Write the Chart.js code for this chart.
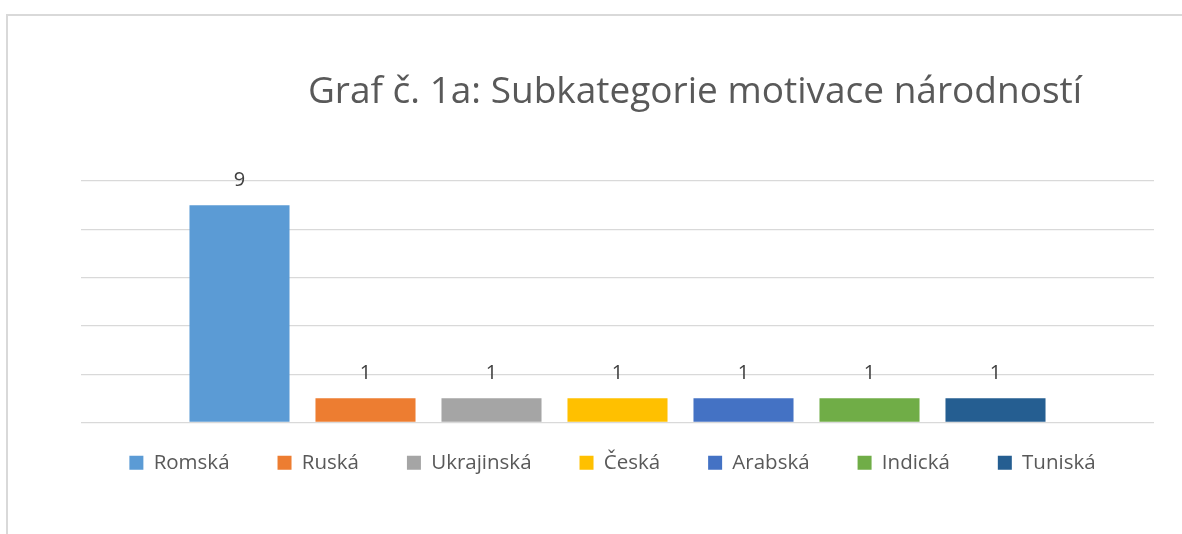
<!DOCTYPE html>
<html>
<head>
<meta charset="utf-8">
<script src="https://cdn.jsdelivr.net/npm/chart.js@4.4.0/dist/chart.umd.min.js"></script>
<style>
    html, body { margin: 0; padding: 0; background: #fff; }
    #frame {
        position: absolute; left: 6px; top: 14px; width: 1200px; height: 540px;
        border-left: 2px solid #d9d9d9; border-top: 2px solid #d9d9d9;
    }
    #wrap { position: absolute; left: 0; top: 0; width: 1182px; height: 534px; }
</style>
</head>
<body>
<div id="frame"></div>
<div id="wrap"><canvas id="chart"></canvas></div>
<script>
// Data
const chartTitle = 'Graf č. 1a: Subkategorie motivace národností';
const seriesNames = ['Romská', 'Ruská', 'Ukrajinská', 'Česká', 'Arabská', 'Indická', 'Tuniská'];
const seriesCounts = [9, 1, 1, 1, 1, 1, 1];
const seriesColors = ['#5B9BD5', '#ED7D31', '#A5A5A5', '#FFC000', '#4472C4', '#70AD47', '#255E91'];
const yMin = 0;
const yMax = 10;
const yStep = 2;

const fontFamily = '"Open Sans", "Noto Sans", sans-serif';

// Title drawn slightly right of centre, like the Excel original
const titlePlugin = {
    id: 'offsetTitle',
    afterDraw(chart) {
        const ctx = chart.ctx;
        ctx.save();
        ctx.font = '37px ' + fontFamily;
        ctx.fillStyle = '#595959';
        ctx.textAlign = 'center';
        ctx.textBaseline = 'middle';
        ctx.fillText(chartTitle, 695, 92);
        ctx.restore();
    }
};

// Value labels above each bar
const valueLabels = {
    id: 'valueLabels',
    afterDatasetsDraw(chart) {
        const ctx = chart.ctx;
        ctx.save();
        ctx.font = '20px ' + fontFamily;
        ctx.fillStyle = '#404040';
        ctx.textAlign = 'center';
        ctx.textBaseline = 'middle';
        chart.data.datasets.forEach((ds, i) => {
            chart.getDatasetMeta(i).data.forEach((bar, j) => {
                ctx.fillText(String(ds.data[j]), bar.x, bar.y - 25);
            });
        });
        ctx.restore();
    }
};

// Pull the legend row up closer to the plot (big horizontal padding would push it down)
const legendShift = {
    id: 'legendShift',
    afterLayout(chart) {
        chart.legend.top -= 18;
        chart.legend.bottom -= 18;
    }
};

const ctx = document.getElementById('chart').getContext('2d');
new Chart(ctx, {
    type: 'bar',
    data: {
        labels: [''],
        datasets: seriesNames.map((name, i) => ({
            label: name,
            data: [seriesCounts[i]],
            backgroundColor: seriesColors[i],
            borderWidth: 0,
            categoryPercentage: 0.822,
            barPercentage: 0.794
        }))
    },
    options: {
        responsive: true,
        maintainAspectRatio: false,
        animation: false,
        layout: {
            padding: { left: 71, right: 28, top: 181, bottom: 33 }
        },
        scales: {
            x: { display: false },
            y: {
                min: yMin,
                max: yMax,
                afterFit(scale) { scale.width = 10; },
                ticks: { display: false, stepSize: yStep },
                grid: { color: '#d9d9d9', lineWidth: 1.3, drawTicks: false },
                border: { display: false }
            }
        },
        plugins: {
            title: { display: false },
            tooltip: { enabled: false },
            legend: {
                position: 'bottom',
                labels: {
                    boxWidth: 14,
                    boxHeight: 14,
                    padding: 48,
                    color: '#595959',
                    font: { family: fontFamily, size: 20.5 }
                }
            }
        }
    },
    plugins: [titlePlugin, valueLabels, legendShift]
});
</script>
</body>
</html>
